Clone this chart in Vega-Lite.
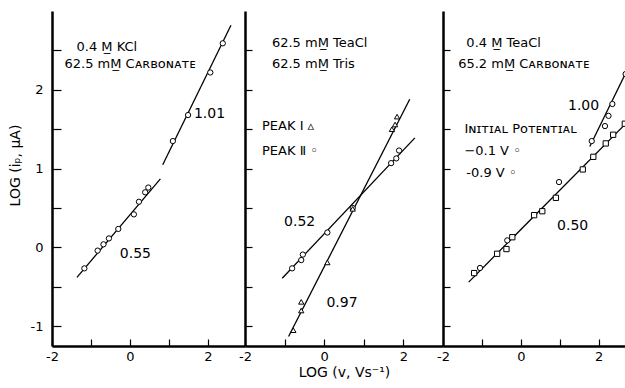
{
  "$schema": "https://vega.github.io/schema/vega-lite/v6.json",
  "background": "white",
  "padding": {"left": 8, "top": 11, "right": 0, "bottom": 0},
  "spacing": 0,
  "bounds": "flush",
  "config": {
    "view": {"stroke": null},
    "font": "DejaVu Sans",
    "axis": {
      "grid": false,
      "domainColor": "black",
      "domainWidth": 2.5,
      "tickColor": "black",
      "tickWidth": 1.2,
      "labelColor": "black",
      "titleColor": "black",
      "labelFont": "DejaVu Sans",
      "titleFont": "DejaVu Sans",
      "labelFontSize": 13,
      "titleFontSize": 14,
      "titleFontWeight": "normal",
      "labelFlush": false,
      "labelOverlap": false
    }
  },
  "datasets": {
    "pts": [
      {"panel": "A", "series": "KCl", "x": -1.17, "y": -0.265},
      {"panel": "A", "series": "KCl", "x": -0.83, "y": -0.04},
      {"panel": "A", "series": "KCl", "x": -0.68, "y": 0.04},
      {"panel": "A", "series": "KCl", "x": -0.54, "y": 0.115},
      {"panel": "A", "series": "KCl", "x": -0.30, "y": 0.235},
      {"panel": "A", "series": "KCl", "x": 0.10, "y": 0.42},
      {"panel": "A", "series": "KCl", "x": 0.23, "y": 0.58},
      {"panel": "A", "series": "KCl", "x": 0.39, "y": 0.70},
      {"panel": "A", "series": "KCl", "x": 0.47, "y": 0.76},
      {"panel": "A", "series": "KCl", "x": 1.10, "y": 1.35},
      {"panel": "A", "series": "KCl", "x": 1.49, "y": 1.68},
      {"panel": "A", "series": "KCl", "x": 2.06, "y": 2.22},
      {"panel": "A", "series": "KCl", "x": 2.38, "y": 2.59},
      {"panel": "B", "series": "Peak II", "x": -0.81, "y": -0.265},
      {"panel": "B", "series": "Peak II", "x": -0.58, "y": -0.16},
      {"panel": "B", "series": "Peak II", "x": -0.54, "y": -0.09},
      {"panel": "B", "series": "Peak II", "x": 0.08, "y": 0.19},
      {"panel": "B", "series": "Peak II", "x": 0.72, "y": 0.50},
      {"panel": "B", "series": "Peak II", "x": 1.69, "y": 1.07},
      {"panel": "B", "series": "Peak II", "x": 1.82, "y": 1.13},
      {"panel": "B", "series": "Peak II", "x": 1.89, "y": 1.23},
      {"panel": "B", "series": "Peak I", "x": -0.78, "y": -1.05},
      {"panel": "B", "series": "Peak I", "x": -0.58, "y": -0.80},
      {"panel": "B", "series": "Peak I", "x": -0.58, "y": -0.69},
      {"panel": "B", "series": "Peak I", "x": 0.08, "y": -0.19},
      {"panel": "B", "series": "Peak I", "x": 0.72, "y": 0.49},
      {"panel": "B", "series": "Peak I", "x": 1.71, "y": 1.50},
      {"panel": "B", "series": "Peak I", "x": 1.79, "y": 1.56},
      {"panel": "B", "series": "Peak I", "x": 1.84, "y": 1.66},
      {"panel": "C", "series": "-0.9 V", "x": -1.20, "y": -0.325},
      {"panel": "C", "series": "-0.1 V", "x": -1.05, "y": -0.26},
      {"panel": "C", "series": "-0.9 V", "x": -0.61, "y": -0.08},
      {"panel": "C", "series": "-0.9 V", "x": -0.37, "y": -0.02},
      {"panel": "C", "series": "-0.1 V", "x": -0.35, "y": 0.09},
      {"panel": "C", "series": "-0.9 V", "x": -0.22, "y": 0.13},
      {"panel": "C", "series": "-0.9 V", "x": 0.34, "y": 0.41},
      {"panel": "C", "series": "-0.9 V", "x": 0.55, "y": 0.46},
      {"panel": "C", "series": "-0.9 V", "x": 0.90, "y": 0.63},
      {"panel": "C", "series": "-0.1 V", "x": 0.98, "y": 0.83},
      {"panel": "C", "series": "-0.9 V", "x": 1.59, "y": 0.99},
      {"panel": "C", "series": "-0.9 V", "x": 1.86, "y": 1.15},
      {"panel": "C", "series": "-0.9 V", "x": 2.18, "y": 1.32},
      {"panel": "C", "series": "-0.9 V", "x": 2.37, "y": 1.43},
      {"panel": "C", "series": "-0.9 V", "x": 2.67, "y": 1.57},
      {"panel": "C", "series": "-0.1 V", "x": 1.82, "y": 1.35},
      {"panel": "C", "series": "-0.1 V", "x": 2.16, "y": 1.54},
      {"panel": "C", "series": "-0.1 V", "x": 2.25, "y": 1.67},
      {"panel": "C", "series": "-0.1 V", "x": 2.35, "y": 1.82},
      {"panel": "C", "series": "-0.1 V", "x": 2.69, "y": 2.20}
    ],
    "lines": [
      {"panel": "A", "seg": "A1", "x": -1.36, "y": -0.38},
      {"panel": "A", "seg": "A1", "x": 0.78, "y": 0.87},
      {"panel": "A", "seg": "A2", "x": 0.84, "y": 1.05},
      {"panel": "A", "seg": "A2", "x": 2.59, "y": 2.82},
      {"panel": "B", "seg": "B2", "x": -1.06, "y": -0.39},
      {"panel": "B", "seg": "B2", "x": 2.29, "y": 1.39},
      {"panel": "B", "seg": "B1", "x": -0.90, "y": -1.13},
      {"panel": "B", "seg": "B1", "x": 2.16, "y": 1.88},
      {"panel": "C", "seg": "C1", "x": -1.34, "y": -0.44},
      {"panel": "C", "seg": "C1", "x": 2.75, "y": 1.60},
      {"panel": "C", "seg": "C2", "x": 1.77, "y": 1.28},
      {"panel": "C", "seg": "C2", "x": 2.75, "y": 2.27}
    ],
    "notes": [
      {"panel": "A", "kind": "label", "x": -1.37, "y": 2.54, "text": "0.4 M̲ KCl"},
      {"panel": "A", "kind": "label", "x": -1.68, "y": 2.33, "text": "62.5 mM̲ Cᴀʀʙᴏɴᴀᴛᴇ"},
      {"panel": "A", "kind": "slope", "x": 2.04, "y": 1.69, "text": "1.01"},
      {"panel": "A", "kind": "slope", "x": 0.14, "y": -0.08, "text": "0.55"},
      {"panel": "B", "kind": "label", "x": -1.32, "y": 2.59, "text": "62.5 mM̲ TeaCl"},
      {"panel": "B", "kind": "label", "x": -1.32, "y": 2.33, "text": "62.5 mM̲ Tris"},
      {"panel": "B", "kind": "label", "x": -1.57, "y": 1.54, "text": "PEAK Ⅰ  ▵"},
      {"panel": "B", "kind": "label", "x": -1.57, "y": 1.23, "text": "PEAK Ⅱ  ◦"},
      {"panel": "B", "kind": "slope", "x": -0.62, "y": 0.32, "text": "0.52"},
      {"panel": "B", "kind": "slope", "x": 0.45, "y": -0.71, "text": "0.97"},
      {"panel": "C", "kind": "label", "x": -1.40, "y": 2.59, "text": "0.4 M̲ TeaCl"},
      {"panel": "C", "kind": "label", "x": -1.61, "y": 2.33, "text": "65.2 mM̲ Cᴀʀʙᴏɴᴀᴛᴇ"},
      {"panel": "C", "kind": "label", "x": -1.45, "y": 1.50, "text": "Iɴɪᴛɪᴀʟ Pᴏᴛᴇɴᴛɪᴀʟ"},
      {"panel": "C", "kind": "label", "x": -1.45, "y": 1.22, "text": "−0.1 V  ◦"},
      {"panel": "C", "kind": "label", "x": -1.40, "y": 0.94, "text": "-0.9 V  ◦"},
      {"panel": "C", "kind": "slope", "x": 1.61, "y": 1.79, "text": "1.00"},
      {"panel": "C", "kind": "slope", "x": 1.33, "y": 0.27, "text": "0.50"}
    ]
  },
  "hconcat": [
    {
      "width": 193,
      "height": 335,
      "encoding": {
        "x": {"field": "x", "type": "quantitative", "scale": {"domain": [-2, 2.95], "nice": false, "zero": false},
          "axis": {"values": [-2, -1, 0, 1, 2], "labelExpr": "datum.value % 2 == 0 ? '' + datum.value : ''", "tickSize": -7, "labelPadding": 11, "title": null}},
        "y": {"field": "y", "type": "quantitative", "scale": {"domain": [-1.25, 3], "nice": false, "zero": false},
          "axis": {"values": [-1, -0.5, 0, 0.5, 1, 1.5, 2, 2.5], "labelExpr": "datum.value % 1 == 0 ? '' + datum.value : ''", "tickSize": -9, "labelPadding": 18, "title": "LOG (iₚ, μA)", "titlePadding": 8, "titleY": 154}}
      },
      "layer": [
        {"data": {"name": "lines"}, "transform": [{"filter": "datum.panel == 'A'"}],
          "mark": {"type": "line", "color": "black", "strokeWidth": 1.3, "clip": true},
          "encoding": {"detail": {"field": "seg"}}},
        {"data": {"name": "pts"}, "transform": [{"filter": "datum.panel == 'A'"}],
          "mark": {"type": "point", "filled": true, "fill": "white", "stroke": "black", "strokeWidth": 1, "size": 28, "opacity": 1},
          "encoding": {"shape": {"field": "series", "scale": {"domain": ["KCl", "Peak II", "Peak I", "-0.1 V", "-0.9 V"], "range": ["circle", "circle", "triangle-up", "circle", "square"]}, "legend": null}}},
        {"data": {"name": "notes"}, "transform": [{"filter": "datum.panel == 'A' && datum.kind == 'label'"}],
          "mark": {"type": "text", "align": "left", "baseline": "middle", "fontSize": 13, "color": "black"},
          "encoding": {"text": {"field": "text"}}},
        {"data": {"name": "notes"}, "transform": [{"filter": "datum.panel == 'A' && datum.kind == 'slope'"}],
          "mark": {"type": "text", "align": "center", "baseline": "middle", "fontSize": 14, "color": "black"},
          "encoding": {"text": {"field": "text"}}},
        {"data": {"values": [{}]}, "mark": {"type": "rule", "color": "black", "strokeWidth": 2.5}, "encoding": {"y": {"datum": 3}}}
      ]
    },
    {
      "width": 198,
      "height": 335,
      "encoding": {
        "x": {"field": "x", "type": "quantitative", "scale": {"domain": [-2, 3.0], "nice": false, "zero": false},
          "axis": {"values": [-2, -1, 0, 1, 2], "labelExpr": "datum.value % 2 == 0 ? '' + datum.value : ''", "tickSize": -7, "labelPadding": 11, "title": "LOG  (v, Vs⁻¹)", "titlePadding": 2}},
        "y": {"field": "y", "type": "quantitative", "scale": {"domain": [-1.25, 3], "nice": false, "zero": false},
          "axis": {"values": [-1, -0.5, 0, 0.5, 1, 1.5, 2, 2.5], "labels": false, "tickSize": -7, "title": null}}
      },
      "layer": [
        {"data": {"name": "lines"}, "transform": [{"filter": "datum.panel == 'B'"}],
          "mark": {"type": "line", "color": "black", "strokeWidth": 1.3, "clip": true},
          "encoding": {"detail": {"field": "seg"}}},
        {"data": {"name": "pts"}, "transform": [{"filter": "datum.panel == 'B'"}],
          "mark": {"type": "point", "filled": true, "fill": "white", "stroke": "black", "strokeWidth": 1, "size": 28, "opacity": 1},
          "encoding": {"shape": {"field": "series", "scale": {"domain": ["KCl", "Peak II", "Peak I", "-0.1 V", "-0.9 V"], "range": ["circle", "circle", "triangle-up", "circle", "square"]}, "legend": null}}},
        {"data": {"name": "notes"}, "transform": [{"filter": "datum.panel == 'B' && datum.kind == 'label'"}],
          "mark": {"type": "text", "align": "left", "baseline": "middle", "fontSize": 13, "color": "black"},
          "encoding": {"text": {"field": "text"}}},
        {"data": {"name": "notes"}, "transform": [{"filter": "datum.panel == 'B' && datum.kind == 'slope'"}],
          "mark": {"type": "text", "align": "center", "baseline": "middle", "fontSize": 14, "color": "black"},
          "encoding": {"text": {"field": "text"}}},
        {"data": {"values": [{}]}, "mark": {"type": "rule", "color": "black", "strokeWidth": 2.5}, "encoding": {"y": {"datum": 3}}}
      ]
    },
    {
      "width": 183,
      "height": 335,
      "encoding": {
        "x": {"field": "x", "type": "quantitative", "scale": {"domain": [-2, 2.7], "nice": false, "zero": false},
          "axis": {"values": [-2, -1, 0, 1, 2], "labelExpr": "datum.value % 2 == 0 ? '' + datum.value : ''", "tickSize": -7, "labelPadding": 11, "title": null}},
        "y": {"field": "y", "type": "quantitative", "scale": {"domain": [-1.25, 3], "nice": false, "zero": false},
          "axis": {"values": [-1, -0.5, 0, 0.5, 1, 1.5, 2, 2.5], "labels": false, "tickSize": -7, "title": null}}
      },
      "layer": [
        {"data": {"name": "lines"}, "transform": [{"filter": "datum.panel == 'C'"}],
          "mark": {"type": "line", "color": "black", "strokeWidth": 1.3, "clip": true},
          "encoding": {"detail": {"field": "seg"}}},
        {"data": {"name": "pts"}, "transform": [{"filter": "datum.panel == 'C'"}],
          "mark": {"type": "point", "filled": true, "fill": "white", "stroke": "black", "strokeWidth": 1, "size": 28, "opacity": 1},
          "encoding": {"shape": {"field": "series", "scale": {"domain": ["KCl", "Peak II", "Peak I", "-0.1 V", "-0.9 V"], "range": ["circle", "circle", "triangle-up", "circle", "square"]}, "legend": null}}},
        {"data": {"name": "notes"}, "transform": [{"filter": "datum.panel == 'C' && datum.kind == 'label'"}],
          "mark": {"type": "text", "align": "left", "baseline": "middle", "fontSize": 13, "color": "black"},
          "encoding": {"text": {"field": "text"}}},
        {"data": {"name": "notes"}, "transform": [{"filter": "datum.panel == 'C' && datum.kind == 'slope'"}],
          "mark": {"type": "text", "align": "center", "baseline": "middle", "fontSize": 14, "color": "black"},
          "encoding": {"text": {"field": "text"}}},
        {"data": {"values": [{}]}, "mark": {"type": "rule", "color": "black", "strokeWidth": 2.5}, "encoding": {"y": {"datum": 3}}}
      ]
    }
  ]
}
